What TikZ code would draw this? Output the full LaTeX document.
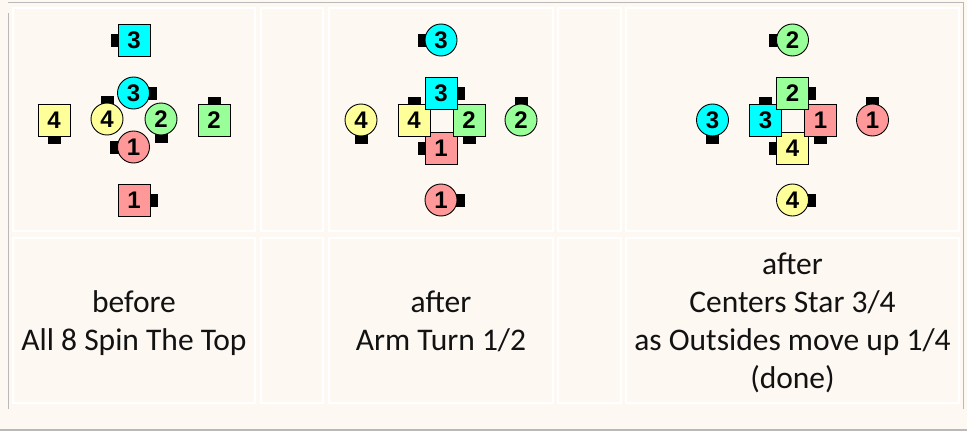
\documentclass[tikz,border=0pt]{standalone}
\usepackage{fontspec}
\setmainfont{Carlito}
\newfontfamily\digitfont{Liberation Sans}
\definecolor{cream}{RGB}{253,248,242}
\definecolor{rulegray}{RGB}{185,185,185}
\definecolor{dcyan}{RGB}{0,255,255}
\definecolor{dyellow}{RGB}{255,255,153}
\definecolor{dgreen}{RGB}{153,255,153}
\definecolor{dred}{RGB}{255,153,153}
\newcommand\dancer[6]{%
  \begin{scope}[shift={#3}]
    \fill[black, rotate=#6] (10,-6.5) rectangle (23.5,6.5);
  \end{scope}
  \node[#2, fill=#4] (#1) at #3 {#5};
}
\tikzset{
  sq/.style={rectangle, draw=black, line width=0.9pt, minimum size=32pt, inner sep=0pt, font=\digitfont\bfseries\fontsize{24}{24}\selectfont},
  ci/.style={circle, draw=black, line width=0.9pt, minimum size=32pt, inner sep=0pt, font=\digitfont\bfseries\fontsize{24}{24}\selectfont},
  cellbox/.style={draw=white, line width=2pt, fill=cream},
  outline/.style={draw=rulegray, line width=1.5pt},
  lab/.style={anchor=base, inner sep=0pt, text=black!93, font=\fontsize{31.5}{38}\selectfont}
}
\begin{document}
\begin{tikzpicture}[x=1pt,y=-1pt]
\useasboundingbox (0,0) rectangle (967,431);
\fill[cream] (0,0) rectangle (967,431);
% outer lines
\draw[outline] (8,2.5) -- (963.5,2.5) -- (963.5,409);
\draw[outline] (8.3,13) -- (8.3,409);
\draw[outline] (0,430) -- (967,430);
% cells
\foreach \xa/\xb in {13/255, 261/323, 329/553, 558/621, 626/959}{
  \draw[cellbox] (\xa,8) rectangle (\xb,231);
  \draw[cellbox] (\xa,238) rectangle (\xb,403);
}
% cell 1
\dancer{aS3}{sq}{(134,40)}{dcyan}{3}{180}
\dancer{aS4}{sq}{(54,120)}{dyellow}{4}{270}
\dancer{aS2}{sq}{(214,120)}{dgreen}{2}{90}
\dancer{aS1}{sq}{(134,200)}{dred}{1}{0}
\dancer{aC3}{ci}{(133.5,93)}{dcyan}{3}{0}
\dancer{aC4}{ci}{(107,119)}{dyellow}{4}{90}
\dancer{aC2}{ci}{(161,119)}{dgreen}{2}{270}
\dancer{aC1}{ci}{(133.5,147)}{dred}{1}{180}
% cell 3
\dancer{bC3}{ci}{(441,40)}{dcyan}{3}{180}
\dancer{bC4}{ci}{(361,120)}{dyellow}{4}{270}
\dancer{bC2}{ci}{(521,120)}{dgreen}{2}{90}
\dancer{bC1}{ci}{(441,200)}{dred}{1}{0}
\dancer{bS1}{sq}{(441,148)}{dred}{1}{180}
\dancer{bS4}{sq}{(414,120)}{dyellow}{4}{90}
\dancer{bS2}{sq}{(469,120)}{dgreen}{2}{270}
\dancer{bS3}{sq}{(441,93.5)}{dcyan}{3}{0}
% cell 5
\dancer{cC2}{ci}{(792.5,40)}{dgreen}{2}{180}
\dancer{cC3}{ci}{(712.5,120)}{dcyan}{3}{270}
\dancer{cC1}{ci}{(872.5,120)}{dred}{1}{90}
\dancer{cC4}{ci}{(792.5,200)}{dyellow}{4}{0}
\dancer{cS4}{sq}{(792.5,148)}{dyellow}{4}{180}
\dancer{cS3}{sq}{(765.5,120)}{dcyan}{3}{90}
\dancer{cS1}{sq}{(820.5,120)}{dred}{1}{270}
\dancer{cS2}{sq}{(792.5,93.5)}{dgreen}{2}{0}
% labels
\node[lab] (l1a) at (134,312) {before};
\node[lab] (l1b) at (134,350) {All 8 Spin The Top};
\node[lab] (l3a) at (441,312) {after};
\node[lab] (l3b) at (441,350) {Arm Turn 1/2};
\node[lab] (l5a) at (792.5,274) {after};
\node[lab] (l5b) at (792.5,312) {Centers Star 3/4};
\node[lab] (l5c) at (792.5,350) {as Outsides move up 1/4};
\node[lab] (l5d) at (792.5,388) {(done)};
\end{tikzpicture}
\end{document}
